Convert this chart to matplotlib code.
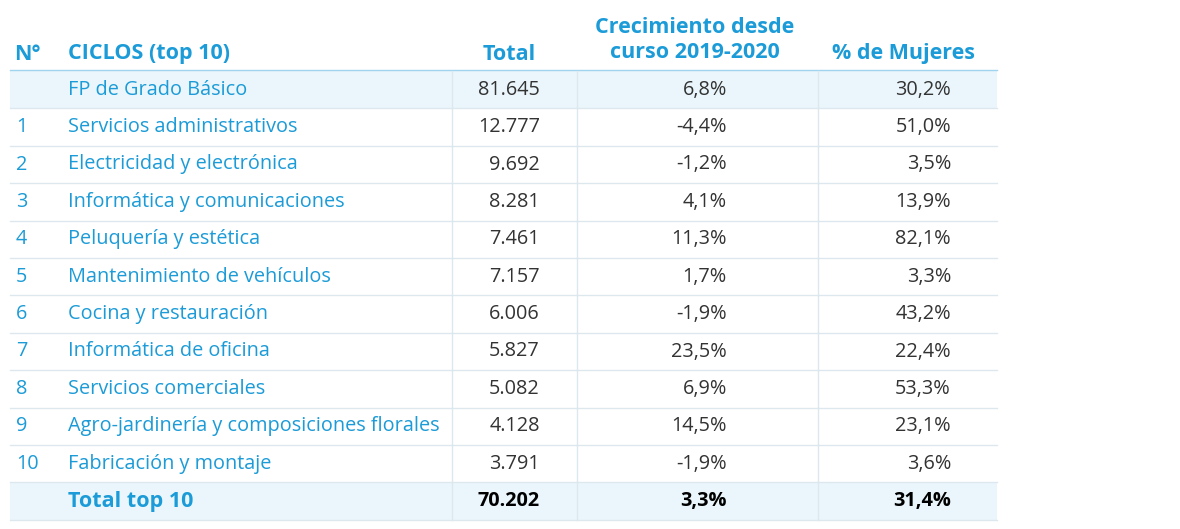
import matplotlib
matplotlib.use("Agg")
import matplotlib.pyplot as plt
from matplotlib.patches import Rectangle

numeros = ["", "1", "2", "3", "4", "5", "6", "7", "8", "9", "10"]
ciclos = ["FP de Grado Básico", "Servicios administrativos", "Electricidad y electrónica",
          "Informática y comunicaciones", "Peluquería y estética", "Mantenimiento de vehículos",
          "Cocina y restauración", "Informática de oficina", "Servicios comerciales",
          "Agro-jardinería y composiciones florales", "Fabricación y montaje"]
total = ["81.645", "12.777", "9.692", "8.281", "7.461", "7.157", "6.006", "5.827", "5.082", "4.128", "3.791"]
crecimiento = ["6,8%", "-4,4%", "-1,2%", "4,1%", "11,3%", "1,7%", "-1,9%", "23,5%", "6,9%", "14,5%", "-1,9%"]
mujeres = ["30,2%", "51,0%", "3,5%", "13,9%", "82,1%", "3,3%", "43,2%", "22,4%", "53,3%", "23,1%", "3,6%"]
fila_total = ["Total top 10", "70.202", "3,3%", "31,4%"]

BLUE = "#1b9bd7"
DARK = "#333333"
LIGHT = "#eaf6fb"
GRID = "#dce8ee"
plt.rcParams['font.family'] = ['Open Sans', 'DejaVu Sans']

fig = plt.figure(figsize=(11.8, 5.29), dpi=100)
ax = fig.add_axes([0, 0, 1, 1])
ax.set_xlim(0, 1180)
ax.set_ylim(529, 0)
ax.axis("off")

left, right = 10, 997
top, rowh = 71, 37.4
vlines = [452, 577, 818]
fs = 14.3
hfs = 15.5

# cabecera
ax.text(14, 54, "N°", color=BLUE, fontsize=hfs, fontweight="bold", va="center")
ax.text(68, 54, "CICLOS (top 10)", color=BLUE, fontsize=hfs, fontweight="bold", va="center")
ax.text(536, 54, "Total", color=BLUE, fontsize=hfs, fontweight="bold", va="center", ha="right")
ax.text(695, 40, "Crecimiento desde\ncurso 2019-2020", color=BLUE, fontsize=hfs, fontweight="bold",
        va="center", ha="center", linespacing=1.25)
ax.text(904, 54, "% de Mujeres", color=BLUE, fontsize=hfs, fontweight="bold", va="center", ha="center")
ax.plot([left, right], [top - 1, top - 1], color="#9fd3ee", lw=1)

n = len(ciclos) + 1
for i in range(n):
    y0 = top + i * rowh
    yc = y0 + rowh / 2
    if i == 0 or i == n - 1:
        ax.add_patch(Rectangle((left, y0), right - left, rowh, color=LIGHT, lw=0, zorder=0))
    ax.plot([left, right], [y0 + rowh, y0 + rowh], color=GRID, lw=1)
    for x in vlines:
        ax.plot([x, x], [y0, y0 + rowh], color=GRID, lw=1)
    if i < n - 1:
        ax.text(16, yc, numeros[i], color=BLUE, fontsize=fs, va="center")
        ax.text(68, yc, ciclos[i], color=BLUE, fontsize=fs, va="center")
        ax.text(540, yc, total[i], color=DARK, fontsize=fs, va="center", ha="right")
        ax.text(727, yc, crecimiento[i], color=DARK, fontsize=fs, va="center", ha="right")
        ax.text(951, yc, mujeres[i], color=DARK, fontsize=fs, va="center", ha="right")
    else:
        ax.text(68, yc, fila_total[0], color=BLUE, fontsize=hfs, va="center", fontweight="bold")
        ax.text(540, yc, fila_total[1], color="black", fontsize=fs, va="center", ha="right", fontweight="bold")
        ax.text(727, yc, fila_total[2], color="black", fontsize=fs, va="center", ha="right", fontweight="bold")
        ax.text(951, yc, fila_total[3], color="black", fontsize=fs, va="center", ha="right", fontweight="bold")

fig.savefig("out.png", dpi=100)
